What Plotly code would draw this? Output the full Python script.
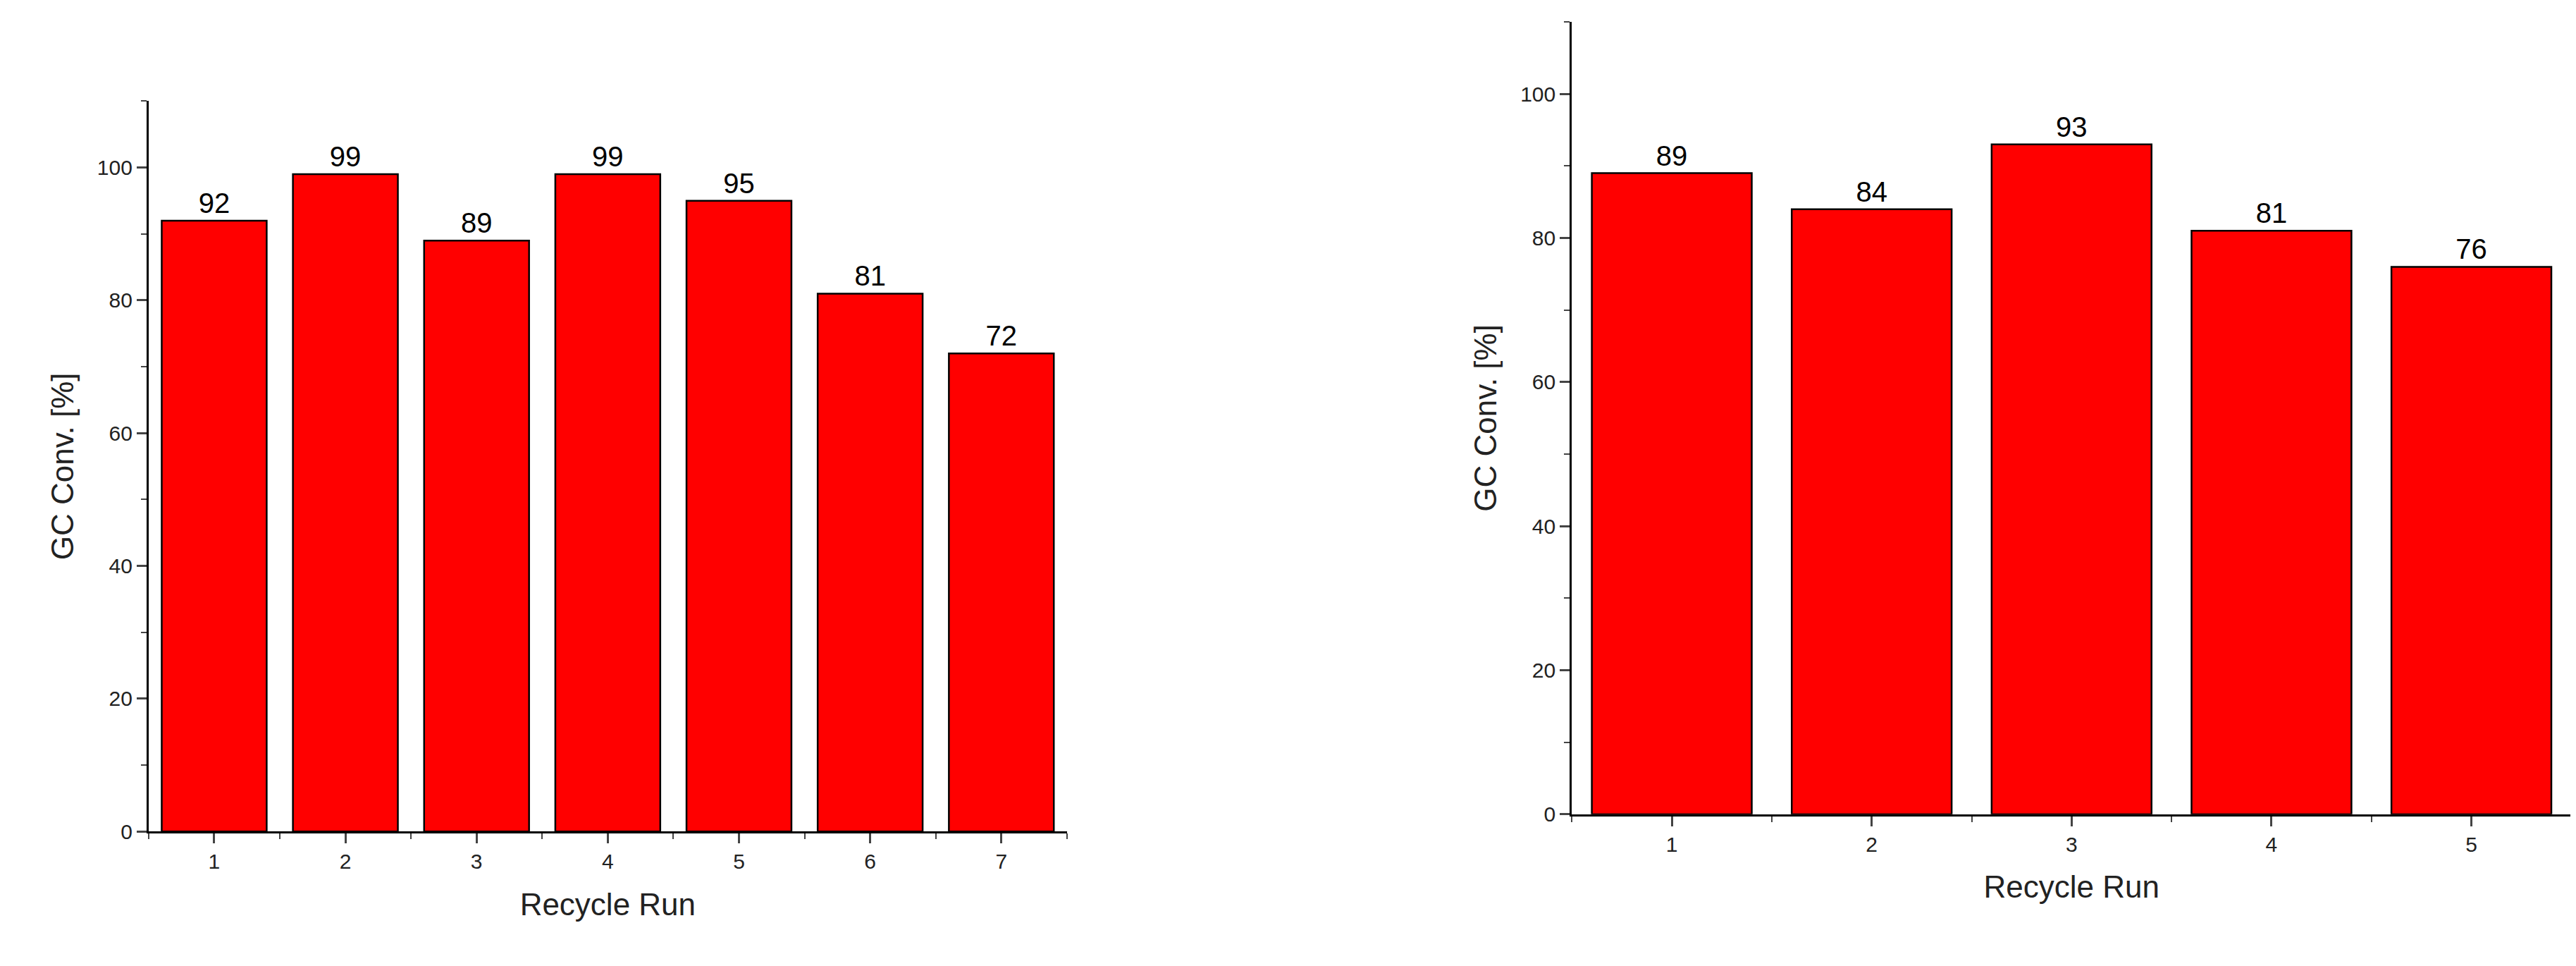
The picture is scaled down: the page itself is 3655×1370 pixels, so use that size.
import plotly.graph_objects as go

runs_a = [1, 2, 3, 4, 5, 6, 7]
conv_a = [92, 99, 89, 99, 95, 81, 72]
runs_b = [1, 2, 3, 4, 5]
conv_b = [89, 84, 93, 81, 76]

fig = go.Figure()
bar_style = dict(marker=dict(color="#ff0000", line=dict(color="black", width=2.5)),
                 width=0.8, textposition="outside", cliponaxis=False,
                 textfont=dict(size=40, color="black"), showlegend=False)
fig.add_trace(go.Bar(x=runs_a, y=conv_a, text=conv_a, xaxis="x", yaxis="y", **bar_style))
fig.add_trace(go.Bar(x=runs_b, y=conv_b, text=conv_b, xaxis="x2", yaxis="y2", **bar_style))


def xax(dom, n, anchor):
    return dict(domain=dom, range=[0.5, n + 0.5], anchor=anchor, tickvals=list(range(1, n + 1)),
                showline=True, linecolor="black", linewidth=3, ticks="outside", ticklen=14,
                tickwidth=3, showgrid=False, zeroline=False, tickfont=dict(size=30),
                minor=dict(tickvals=[i + 0.5 for i in range(n + 1)], ticks="outside",
                           ticklen=8, tickwidth=2),
                title=dict(text="Recycle Run", font=dict(size=44), standoff=30))


def yax(dom, anchor):
    return dict(domain=dom, range=[0, 110], anchor=anchor, tickvals=[0, 20, 40, 60, 80, 100],
                showline=True, linecolor="black", linewidth=3, ticks="outside", ticklen=14,
                tickwidth=3, showgrid=False, zeroline=False, tickfont=dict(size=30),
                minor=dict(dtick=10, ticks="outside", ticklen=8, tickwidth=2),
                title=dict(text="GC Conv. [%]", font=dict(size=44), standoff=20))


fig.update_layout(
    width=3655, height=1370, margin=dict(l=0, r=0, t=0, b=0),
    plot_bgcolor="white", paper_bgcolor="white",
    font=dict(family="Liberation Sans, Arial", color="#222"),
    xaxis=xax([0.0555, 0.412], 7, "y"), yaxis=yax([0.135, 0.90], "x"),
    xaxis2=xax([0.608, 0.996], 5, "y2"), yaxis2=yax([0.153, 0.983], "x2"),
)
fig.write_html("out.html")
